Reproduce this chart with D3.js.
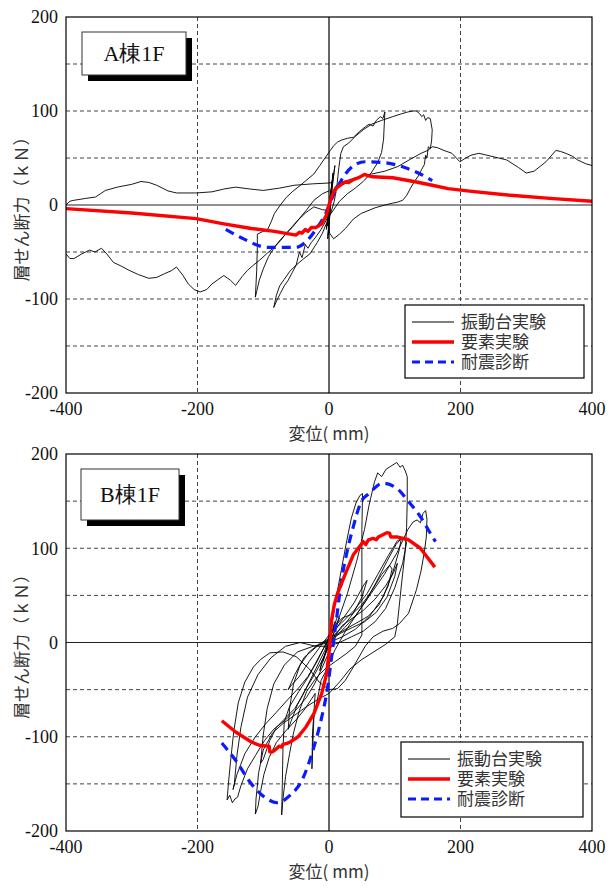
<!DOCTYPE html>
<html>
<head>
<meta charset="utf-8">
<script src="https://cdn.jsdelivr.net/npm/d3@7"></script>
<style>
  body { margin: 0; background: #fff; }
  svg { display: block; }
</style>
</head>
<body>
<div id="chart"></div>
<script>
// 軸の目盛り
const xTicks = [-400, -200, 0, 200, 400];
const yTicks = [-200, -100, 0, 100, 200];
const xGrid = [-200, 200];
const yGrid = [-150, -100, -50, 50, 100, 150];

const legendNames = ["振動台実験", "要素実験", "耐震診断"];

// A棟1F 振動台実験 (変位 mm, 層せん断力 kN)
const aShakeMain = [
  [0, 0], [3, 14], [-2, -12], [5, 26], [-3, -22], [4, 20], [-1, -32], [6, 34], [2, 4], [-4, -26], [9, 42], [3, 8], [-2, -36], [1, -6],
  [-10, -5], [-23, -2], [-35, -8], [-47, -16], [-56, -24], [-65, -30], [-74, -38], [-83, -45], [-92, -55], [-100, -68], [-106, -80], [-110, -92], [-112, -98],
  [-110, -70], [-109, -45], [-109, -31], [-100, -28], [-94, -27], [-88, -18], [-83, -9], [-74, 0], [-65, 8], [-56, 14], [-47, 19], [-35, 26], [-23, 33], [-14, 42], [-5, 51], [2, 58], [7, 63], [13, 67], [19, 69], [28, 71], [37, 72], [46, 78], [55, 83], [61, 86], [67, 84], [72, 90], [78, 94], [82, 92], [85, 99],
  [84, 85], [83, 70], [80, 56], [74, 45], [64, 34], [52, 25], [40, 18], [28, 12], [16, 4], [6, -6], [-4, -16], [-12, -26], [-20, -34], [-27, -40], [-32, -46], [-36, -42], [-41, -56], [-45, -50], [-50, -64], [-56, -72], [-62, -80], [-68, -86], [-74, -94], [-79, -101], [-84, -109],
  [-80, -96], [-75, -86], [-68, -79], [-59, -70], [-50, -64], [-40, -58], [-29, -52], [-18, -40], [-10, -30], [-3, -18], [3, -8], [8, 4], [12, 20], [15, 40], [18, 55], [22, 62], [30, 66], [40, 73], [52, 80], [65, 86], [80, 90], [97, 94], [110, 97], [120, 99], [127, 100], [133, 100], [138, 97], [141, 94], [144, 96], [147, 90], [150, 93], [154, 92], [157, 80], [156, 68], [154, 60], [151, 62], [149, 50], [147, 53], [145, 43], [141, 38], [137, 32], [131, 26], [124, 18], [118, 10], [112, 5], [104, 3], [97, 2], [85, 0], [70, -3], [49, -9], [37, -15], [25, -25], [16, -31], [7, -36], [1, -30], [-3, -15], [0, 0],
  [4, 12], [10, 20], [18, 24], [27, 26], [45, 30], [65, 33], [85, 36], [105, 41], [122, 48], [140, 55], [150, 58], [157, 62], [165, 61], [175, 58], [187, 55], [199, 46], [208, 50], [216, 53], [228, 55], [240, 53], [252, 51], [270, 48], [288, 40], [300, 34], [312, 36], [330, 46], [345, 58], [352, 57], [360, 55], [370, 52], [378, 48], [390, 44], [400, 42], [410, 40]
];
const aShakeLeftUpper = [
  [-410, -3], [-400, 0], [-394, 4], [-388, 5], [-370, 7], [-355, 8.5], [-340, 15.5], [-322, 19], [-300, 22], [-286, 25], [-274, 24], [-262, 21], [-245, 15], [-232, 12.8], [-202, 12.8], [-178, 14], [-160, 17], [-142, 19], [-120, 17], [-100, 15.5], [-75, 18], [-53, 21], [-25, 22.5], [0, 23.4], [5, 24]
];
const aShakeLeftLower = [
  [-410, -48], [-400, -52], [-394, -57], [-388, -57], [-376, -52], [-364, -48], [-356, -50], [-346, -46], [-338, -52], [-328, -61], [-316, -65], [-304, -69.5], [-290, -74], [-274, -78], [-262, -77], [-250, -73], [-240, -70], [-232, -66], [-222, -75], [-214, -84], [-205, -90], [-196, -92.5], [-186, -90], [-178, -84], [-170, -80], [-160, -75], [-150, -80], [-142, -85.5], [-132, -76], [-124, -69.5], [-115, -64], [-106, -59], [-95, -52], [-83, -44.7], [-74, -37], [-65, -30.5], [-56, -23], [-47, -16], [-35, -6], [-23, 5], [-10, 12], [0, 15]
];
// A棟1F 要素実験
const aElement = [
  [-400, -3.9], [-300, -8.5], [-202, -14.5], [-160, -20], [-118, -25], [-83, -28], [-50, -32], [-45, -29], [-41, -30], [-36, -26], [-32, -28], [-27, -24], [-20, -24], [-11, -20], [-4, -11], [0, 0], [4, 8.5], [8, 15], [13, 19], [19, 22], [25, 24.5], [30, 24], [37, 27], [45, 29], [54, 32.6], [60, 31], [67, 30], [97, 29], [133, 24.5], [157, 21], [181, 17.4], [217, 14.5], [276, 10.3], [336, 7], [402, 3.9]
];
// A棟1F 耐震診断
const aSeismic = [
  [-157, -26], [-130, -36], [-94, -45], [-50, -45], [-35, -39], [-17, -23], [-5, -9], [1, 1.4], [13, 19], [25, 33], [40, 43], [55, 46], [85, 45], [115, 40], [139, 33], [157, 26]
];

// B棟1F 振動台実験
const bShake = [
  [0, 0], [4, 10], [9, 22], [3, 6], [-4, -8], [-9, -20], [-3, -4], [6, 14], [13, 28], [16, 26], [6, 8], [-7, -14], [-14, -30], [-11, -20], [0, -2],
  [10, 14], [24, 28], [38, 42], [52, 60], [58, 66], [50, 48], [36, 30], [20, 16], [2, 4], [-18, -4], [-38, -16], [-52, -34], [-62, -50], [-58, -46], [-45, -36], [-30, -20], [-15, -6], [0, 8], [18, 20],
  [38, 34], [58, 52], [74, 72], [90, 92], [104, 108], [110, 110], [106, 96], [96, 72], [82, 48], [62, 28], [40, 14], [20, 6], [0, 0], [-24, -4], [-48, -10], [-68, -24], [-84, -44], [-94, -70], [-100, -98], [-104, -128], [-100, -124], [-90, -104], [-80, -90], [-66, -80], [-52, -70], [-40, -56], [-30, -42], [-20, -28], [-6, -8],
  [4, 18], [11, 48], [19, 78], [27, 108], [34, 132], [41, 148], [47, 156], [51, 158], [50, 120], [50, 80], [50, 40], [50, 8], [40, -4], [26, -12], [10, -20], [-6, -28], [-20, -38], [-34, -52], [-45, -72], [-54, -96], [-60, -118], [-66, -142], [-70, -166], [-72, -183], [-71, -150], [-70, -112], [-68, -84], [-60, -68], [-46, -52], [-31, -36], [-16, -16], [0, 4], [14, 24], [28, 52], [42, 86],
  [54, 120], [61, 146], [69, 170], [74, 180], [80, 176], [87, 184], [94, 187], [103, 191], [108, 186], [112, 188], [116, 182], [119, 176], [119, 150], [118, 122], [116, 98], [110, 60], [104, 20], [100, 6], [86, -2], [68, -10], [50, -18], [32, -28], [16, -42], [0, -54], [-16, -60], [-34, -68], [-54, -78], [-70, -86], [-86, -96], [-100, -114], [-107, -138], [-111, -166], [-112, -182], [-108, -174], [-104, -158], [-99, -140], [-91, -122], [-80, -106], [-66, -94], [-50, -82], [-36, -70], [-21, -54], [-25, -95], [-26, -134], [-23, -80], [-12, -40], [-6, -32], [9, -8], [25, 12], [44, 32], [64, 52], [84, 72], [104, 96], [120, 120],
  [128, 128], [134, 130], [139, 127], [143, 137], [147, 140], [149, 131], [148, 112], [145, 96], [140, 76], [133, 56], [121, 31], [107, 20], [97, 15], [82, 12], [67, 6], [55, -4], [37, -26], [25, -40], [13, -49], [0, -50], [-15, -42], [-30, -28], [-50, -15], [-70, -10], [-90, -11], [-104, -18], [-115, -26], [-128, -42], [-138, -64], [-145, -95], [-150, -128], [-153, -150], [-155, -167], [-151, -162], [-147, -170], [-143, -166], [-139, -164], [-134, -152], [-124, -134], [-112, -120], [-98, -104], [-84, -92], [-66, -82], [-48, -70], [-34, -58], [-22, -44], [-10, -26], [0, -10], [10, 6], [24, 16], [40, 28], [56, 44], [72, 64], [88, 86], [102, 104], [112, 112], [118, 106], [112, 84], [100, 58], [86, 36], [70, 22], [52, 12], [34, 6], [16, 0], [0, -4], [-20, -4], [-44, 0], [-66, -4], [-88, -16], [-108, -34], [-124, -58], [-134, -90], [-140, -120], [-144, -150], [-146, -156], [-140, -140], [-128, -118], [-112, -100], [-96, -86], [-80, -74], [-62, -60], [-46, -48], [-32, -36], [-18, -20], [-4, 0], [8, 16], [20, 26],
  [35, 30], [50, 40], [65, 55], [80, 72], [92, 82], [96, 78], [90, 60], [76, 40], [60, 28], [40, 20], [20, 12], [0, 4], [-16, -2], [-30, -10], [-44, -24], [-54, -44], [-60, -70], [-62, -92], [-58, -84], [-48, -66], [-36, -50], [-22, -34], [-8, -16], [6, 4], [20, 18], [36, 26], [52, 34], [70, 46], [86, 60], [98, 74], [104, 84], [100, 70], [88, 48], [72, 32], [54, 22], [36, 16], [18, 10], [0, 2]
];
// B棟1F 要素実験
const bElement = [
  [-163, -83], [-142, -95], [-118, -105.6], [-106, -109], [-94, -110], [-91, -110], [-90, -116], [-86, -116], [-82, -114], [-76, -110], [-72, -111], [-70, -108], [-64, -107], [-59, -105.6], [-47, -100], [-35, -89.6], [-23, -75.5], [-11, -54], [-3.6, -33], [1, -4.6], [4, 24], [8, 40], [13, 52], [25, 73], [37, 93], [52, 107], [56, 104], [60, 109], [67, 110.5], [72, 109], [75, 112], [88, 116.5], [92, 116], [94, 112], [103, 112], [121, 109], [139, 100], [161, 80]
];
// B棟1F 耐震診断
const bSeismic = [
  [-163, -106.6], [-142, -125], [-118, -150], [-94, -166], [-79, -170], [-59, -162], [-41, -146], [-23, -111], [-11, -79], [-2, -47], [4, -15], [10, 17], [19, 66], [28, 98], [37, 123], [49, 149.5], [61, 158], [82, 169], [103, 163.6], [121, 149.5], [139, 133.5], [154, 116], [162, 107]
];

const W = 616, H = 888;
const left = 66, right = 592;

const svg = d3.select("#chart").append("svg")
  .attr("width", W)
  .attr("height", H);

const serif = "'Liberation Serif', 'Times New Roman', serif";
const jp = "'Noto Sans CJK JP', sans-serif";

function drawPanel(p) {
  const x = d3.scaleLinear().domain([-400, 400]).range([left, right]);
  const y = d3.scaleLinear().domain([-200, 200]).range([p.bottom, p.top]);
  const g = svg.append("g");

  const clipId = "clip-" + p.id;
  svg.append("defs").append("clipPath").attr("id", clipId)
    .append("rect")
    .attr("x", left).attr("y", p.top)
    .attr("width", right - left).attr("height", p.bottom - p.top);

  // グリッド線 (破線)
  g.selectAll(".ygrid").data(yGrid).enter().append("line")
    .attr("x1", left).attr("x2", right)
    .attr("y1", d => y(d)).attr("y2", d => y(d))
    .attr("stroke", "#444").attr("stroke-width", 1)
    .attr("stroke-dasharray", "4,3");
  g.selectAll(".xgrid").data(xGrid).enter().append("line")
    .attr("x1", d => x(d)).attr("x2", d => x(d))
    .attr("y1", p.top).attr("y2", p.bottom)
    .attr("stroke", "#444").attr("stroke-width", 1)
    .attr("stroke-dasharray", "4,3");

  // ゼロ線
  g.append("line")
    .attr("x1", left).attr("x2", right)
    .attr("y1", y(0)).attr("y2", y(0))
    .attr("stroke", "#222").attr("stroke-width", 1.2);
  g.append("line")
    .attr("x1", x(0)).attr("x2", x(0))
    .attr("y1", p.top).attr("y2", p.bottom)
    .attr("stroke", "#000").attr("stroke-width", 1.2);

  const line = d3.line().x(d => x(d[0])).y(d => y(d[1]));
  const series = g.append("g").attr("clip-path", "url(#" + clipId + ")");

  p.shake.forEach(arr => {
    series.append("path").datum(arr)
      .attr("d", line)
      .attr("fill", "none")
      .attr("stroke", "#000")
      .attr("stroke-width", 0.9)
      .attr("stroke-linejoin", "round");
  });
  series.append("path").datum(p.seismic)
    .attr("d", line.curve(d3.curveMonotoneX))
    .attr("fill", "none")
    .attr("stroke", "#0a1cff")
    .attr("stroke-width", 3.2)
    .attr("stroke-dasharray", "9,6");
  line.curve(d3.curveLinear);
  series.append("path").datum(p.element)
    .attr("d", line)
    .attr("fill", "none")
    .attr("stroke", "#ff0000")
    .attr("stroke-width", 3.4)
    .attr("stroke-linejoin", "round");

  // 枠
  g.append("rect")
    .attr("x", left).attr("y", p.top)
    .attr("width", right - left).attr("height", p.bottom - p.top)
    .attr("fill", "none").attr("stroke", "#000").attr("stroke-width", 1.2);

  // 目盛りラベル
  g.selectAll(".ylab").data(yTicks).enter().append("text")
    .attr("x", left - 8).attr("y", d => y(d))
    .attr("dy", "0.35em")
    .attr("text-anchor", "end")
    .style("font-family", serif).style("font-size", "18px")
    .attr("fill", "#111")
    .text(d => d);
  g.selectAll(".xlab").data(xTicks).enter().append("text")
    .attr("x", d => x(d)).attr("y", p.bottom + 16)
    .attr("dy", "0.35em")
    .attr("text-anchor", "middle")
    .style("font-family", serif).style("font-size", "18px")
    .attr("fill", "#111")
    .text(d => d);

  // 軸タイトル
  g.append("text")
    .attr("transform", "translate(22," + ((p.top + p.bottom) / 2) + ") rotate(-90)")
    .attr("text-anchor", "middle")
    .attr("dy", "0.35em")
    .style("font-family", jp).style("font-size", "17px")
    .attr("fill", "#333")
    .text("層せん断力（ｋＮ）");
  g.append("text")
    .attr("x", x(0)).attr("y", p.bottom + 41)
    .attr("text-anchor", "middle")
    .attr("dy", "0.35em")
    .style("font-family", jp).style("font-size", "17px")
    .attr("fill", "#333")
    .text("変位( mm)");

  // タイトル枠 (影付き)
  const tb = p.titleBox;
  g.append("rect")
    .attr("x", tb.x + 6).attr("y", tb.y + 6)
    .attr("width", tb.w).attr("height", tb.h)
    .attr("fill", "#000");
  g.append("rect")
    .attr("x", tb.x).attr("y", tb.y)
    .attr("width", tb.w).attr("height", tb.h)
    .attr("fill", "#fff").attr("stroke", "#333").attr("stroke-width", 1);
  g.append("text")
    .attr("x", tb.x + tb.w / 2).attr("y", tb.y + tb.h / 2)
    .attr("dy", "0.35em")
    .attr("text-anchor", "middle")
    .style("font-family", serif).style("font-size", "22px")
    .attr("fill", "#111")
    .text(p.title);

  // 凡例
  const lg = p.legend;
  g.append("rect")
    .attr("x", lg.x).attr("y", lg.y)
    .attr("width", lg.w).attr("height", lg.h)
    .attr("fill", "#fff").attr("stroke", "#000").attr("stroke-width", 1.2);
  const styles = [
    { color: "#000", width: 1, dash: null },
    { color: "#ff0000", width: 3.4, dash: null },
    { color: "#0a1cff", width: 3.2, dash: "8,5" }
  ];
  legendNames.forEach((name, i) => {
    const ry = lg.y + 17 + i * 20;
    g.append("line")
      .attr("x1", lg.x + 7).attr("x2", lg.x + 49)
      .attr("y1", ry).attr("y2", ry)
      .attr("stroke", styles[i].color)
      .attr("stroke-width", styles[i].width)
      .attr("stroke-dasharray", styles[i].dash);
    g.append("text")
      .attr("x", lg.x + 56).attr("y", ry)
      .attr("dy", "0.36em")
      .style("font-family", jp).style("font-size", "17px")
      .attr("fill", "#333")
      .text(name);
  });
}

drawPanel({
  id: "a", top: 17, bottom: 393, title: "A棟1F",
  shake: [aShakeMain, aShakeLeftUpper, aShakeLeftLower],
  element: aElement, seismic: aSeismic,
  titleBox: { x: 82, y: 32, w: 104, h: 43 },
  legend: { x: 405, y: 305, w: 179, h: 73 }
});
drawPanel({
  id: "b", top: 454, bottom: 831, title: "B棟1F",
  shake: [bShake],
  element: bElement, seismic: bSeismic,
  titleBox: { x: 81, y: 469, w: 98, h: 51 },
  legend: { x: 401, y: 742, w: 182, h: 75 }
});
</script>
</body>
</html>
